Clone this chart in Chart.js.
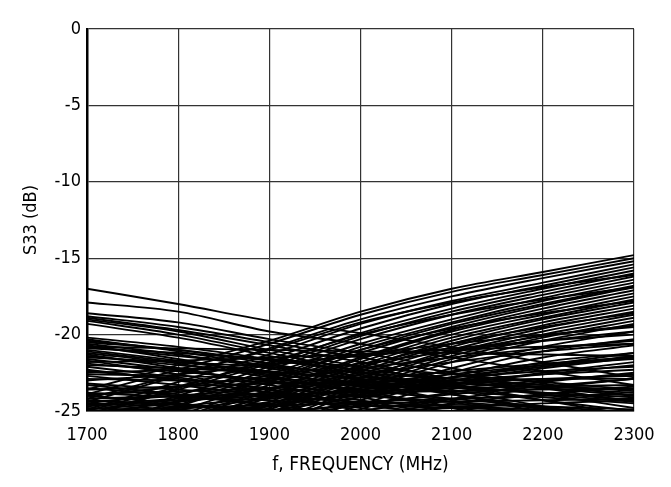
<!DOCTYPE html>
<html>
<head>
<meta charset="utf-8">
<script src="https://cdn.jsdelivr.net/npm/chart.js@4"></script>
<style>
  html, body { margin: 0; padding: 0; background: #fff; }
  canvas { display: block; }
</style>
</head>
<body>
<canvas id="c" width="671" height="487"></canvas>
<script>
// Frequencies (MHz) at which each trace is sampled
const frequencies = [1700, 1800, 1900, 2000, 2100, 2200, 2300];

// Tick values / labels
const xTicks = [1700, 1800, 1900, 2000, 2100, 2200, 2300];
const xTickLabels = ['1700', '1800', '1900', '2000', '2100', '2200', '2300'];
const yTicks = [0, -5, -10, -15, -20, -25];
const yTickLabels = ['0', '-5', '-10', '-15', '-20', '-25'];

// S33 (dB) traces rising with frequency
const risingTraces = [
  [-23.6, -22.0, -20.4, -18.5, -17.0, -15.9, -14.8],
  [-23.9, -22.3, -20.6, -18.7, -17.2, -16.1, -15.0],
  [-24.4, -22.7, -20.9, -19.0, -17.5, -16.3, -15.2],
  [-24.2, -22.6, -21.0, -19.2, -17.9, -16.9, -16.1],
  [-24.9, -23.1, -21.3, -19.3, -17.8, -16.6, -15.4],
  [-25.4, -23.5, -21.6, -19.6, -18.0, -16.8, -15.6],
  [-25.2, -23.6, -21.9, -19.9, -18.3, -17.0, -15.8],
  [-25.0, -23.4, -21.8, -20.0, -18.7, -17.7, -16.9],
  [-25.8, -24.0, -22.1, -20.1, -18.5, -17.2, -16.0],
  [-26.3, -24.3, -22.3, -20.3, -18.7, -17.4, -16.2],
  [-26.0, -24.4, -22.6, -20.6, -19.0, -17.6, -16.4],
  [-26.6, -24.7, -22.8, -20.8, -19.2, -17.8, -16.6],
  [-26.4, -24.6, -22.9, -21.0, -19.6, -18.6, -17.8],
  [-26.9, -25.0, -23.1, -21.0, -19.3, -18.0, -16.8],
  [-27.2, -25.3, -23.3, -21.2, -19.5, -18.1, -16.9],
  [-27.0, -25.4, -23.6, -21.5, -19.7, -18.3, -17.1],
  [-27.6, -25.6, -23.7, -21.6, -19.8, -18.5, -17.3],
  [-27.9, -25.9, -23.9, -21.8, -20.0, -18.7, -17.5],
  [-28.1, -26.1, -24.1, -22.0, -20.2, -18.9, -17.7],
  [-27.4, -25.7, -24.0, -22.1, -20.6, -19.5, -18.6],
  [-28.4, -26.4, -24.4, -22.2, -20.4, -19.0, -17.9],
  [-28.7, -26.7, -24.6, -22.4, -20.6, -19.2, -18.1],
  [-29.0, -27.0, -24.8, -22.6, -20.8, -19.4, -18.3],
  [-29.2, -27.2, -25.1, -22.9, -21.0, -19.6, -18.5],
  [-28.8, -26.9, -24.9, -22.8, -21.2, -20.1, -19.4],
  [-29.5, -27.5, -25.3, -23.1, -21.2, -19.8, -18.7],
  [-29.8, -27.7, -25.5, -23.3, -21.4, -20.0, -18.9],
  [-30.0, -28.0, -25.8, -23.5, -21.6, -20.2, -19.1],
  [-30.3, -28.2, -26.0, -23.7, -21.8, -20.4, -19.3],
  [-30.5, -28.5, -26.3, -24.0, -22.2, -20.8, -19.8],
  [-30.8, -28.8, -26.6, -24.3, -22.5, -21.1, -20.3],
  [-31.0, -29.0, -26.8, -24.6, -22.8, -21.5, -20.7],
  [-31.2, -29.2, -27.0, -24.9, -23.1, -21.8, -21.2]
];

// Traces with a gentler rise
const gentleTraces = [
  [-23.0, -22.6, -22.0, -21.3, -20.6, -20.0, -19.5],
  [-22.5, -22.3, -21.9, -21.4, -20.9, -20.4, -20.0],
  [-24.0, -23.4, -22.7, -21.9, -21.1, -20.4, -19.8],
  [-21.8, -21.7, -21.5, -21.3, -21.0, -20.8, -20.6],
  [-20.8, -20.9, -21.0, -21.1, -21.2, -21.3, -21.4],
  [-24.5, -23.8, -23.0, -22.2, -21.5, -20.9, -20.4],
  [-25.2, -24.4, -23.5, -22.6, -21.8, -21.1, -20.6]
];

// Traces falling with frequency
const fallingTraces = [
  [-17.0, -18.0, -19.1, -19.9, -20.8, -21.8, -22.8],
  [-17.9, -18.5, -19.8, -20.6, -21.5, -22.4, -23.3],
  [-18.6, -19.2, -20.3, -21.2, -22.2, -23.2, -24.0],
  [-18.8, -19.5, -20.5, -21.5, -22.5, -23.5, -24.4],
  [-18.9, -19.7, -20.7, -21.8, -22.9, -23.9, -24.8],
  [-19.0, -19.8, -21.0, -22.1, -23.2, -24.3, -25.3],
  [-19.1, -20.0, -21.2, -22.4, -23.6, -24.7, -25.8],
  [-19.3, -20.2, -21.4, -22.6, -23.9, -25.1, -26.2],
  [-20.2, -20.8, -21.6, -22.5, -23.4, -24.3, -25.0],
  [-20.3, -21.1, -22.1, -23.0, -23.9, -24.8, -25.6],
  [-20.4, -21.0, -21.9, -22.9, -23.9, -24.9, -25.9],
  [-20.5, -21.0, -21.7, -22.3, -22.9, -23.5, -24.0],
  [-20.6, -21.3, -22.2, -23.2, -24.3, -25.3, -26.4],
  [-20.7, -21.6, -22.7, -23.7, -24.7, -25.7, -26.6],
  [-20.8, -21.4, -22.0, -22.7, -23.3, -23.9, -24.4],
  [-20.9, -21.2, -21.6, -22.1, -22.6, -23.1, -23.6],
  [-21.0, -21.7, -22.5, -23.4, -24.4, -25.5, -26.5],
  [-21.1, -21.8, -22.4, -22.9, -23.2, -23.4, -23.6],
  [-21.2, -21.9, -22.8, -23.8, -24.8, -25.9, -27.0],
  [-21.3, -22.2, -23.3, -24.3, -25.3, -26.2, -27.0],
  [-21.4, -22.0, -22.6, -23.2, -23.7, -24.1, -24.5],
  [-21.5, -21.8, -22.1, -22.5, -22.9, -23.3, -23.7],
  [-21.6, -22.3, -23.1, -24.1, -25.1, -26.1, -27.1],
  [-21.7, -22.6, -23.8, -25.0, -26.1, -27.2, -28.2],
  [-21.9, -22.4, -23.0, -23.6, -24.2, -24.7, -25.1],
  [-22.0, -22.2, -22.5, -22.8, -23.1, -23.5, -23.8],
  [-22.1, -22.8, -23.6, -24.5, -25.4, -26.4, -27.4],
  [-22.3, -23.0, -23.8, -24.6, -25.3, -26.0, -26.6],
  [-22.4, -22.9, -23.5, -24.0, -24.4, -24.8, -25.2],
  [-22.6, -22.7, -22.9, -23.1, -23.4, -23.8, -24.3],
  [-22.7, -23.3, -24.0, -24.8, -25.7, -26.6, -27.5],
  [-23.2, -23.6, -24.0, -24.4, -24.7, -24.9, -25.2],
  [-23.3, -23.9, -24.6, -25.4, -26.2, -27.0, -27.8],
  [-23.5, -24.0, -24.6, -25.3, -26.0, -26.8, -27.6],
  [-23.8, -24.1, -24.3, -24.6, -24.8, -25.0, -25.3],
  [-24.0, -24.5, -25.1, -25.7, -26.3, -27.0, -27.7],
  [-24.3, -24.6, -24.9, -25.2, -25.5, -25.8, -26.0],
  [-24.6, -24.9, -25.3, -25.7, -26.1, -26.5, -26.9],
  [-24.8, -25.0, -25.2, -25.4, -25.6, -25.8, -26.0]
];

// Low traces, nearly flat or slowly rising
const lowTraces = [
  [-25.5, -24.9, -24.2, -23.5, -22.8, -22.1, -21.4],
  [-26.0, -25.3, -24.6, -23.9, -23.2, -22.6, -22.0],
  [-24.6, -24.2, -23.8, -23.4, -23.0, -22.6, -22.3],
  [-25.8, -25.2, -24.5, -24.0, -23.5, -23.0, -22.6],
  [-23.6, -23.4, -23.2, -23.1, -23.0, -22.9, -22.9],
  [-24.2, -24.0, -23.9, -23.8, -23.7, -23.6, -23.5],
  [-26.5, -25.6, -24.7, -23.8, -23.0, -22.2, -21.5],
  [-27.0, -26.0, -25.0, -24.1, -23.3, -22.5, -21.8],
  [-25.0, -24.8, -24.6, -24.5, -24.4, -24.3, -24.2],
  [-22.9, -23.0, -23.1, -23.3, -23.5, -23.8, -24.1],
  [-23.9, -23.7, -23.5, -23.2, -22.8, -22.4, -22.1],
  [-24.4, -24.0, -23.5, -23.0, -22.4, -21.9, -21.5],
  [-24.7, -24.3, -24.0, -23.7, -23.5, -23.4, -23.3],
  [-24.9, -24.4, -23.8, -23.2, -22.6, -22.0, -21.6],
  [-25.3, -24.7, -24.1, -23.6, -23.2, -22.9, -22.7],
  [-26.2, -25.3, -24.4, -23.6, -22.8, -22.0, -21.2],
  [-25.6, -25.1, -24.7, -24.4, -24.2, -24.0, -23.9],
  [-26.8, -26.0, -25.2, -24.5, -23.9, -23.4, -22.9],
  [-27.5, -26.5, -25.5, -24.6, -23.8, -23.1, -22.5],
  [-28.0, -27.0, -26.0, -25.0, -24.2, -23.5, -22.9],
  [-28.5, -27.4, -26.3, -25.3, -24.5, -23.9, -23.4],
  [-25.1, -25.3, -25.0, -24.7, -24.6, -24.7, -24.9],
  [-24.5, -24.7, -24.9, -25.0, -24.8, -24.5, -24.3]
];

const FONT = '"DejaVu Sans Condensed", "DejaVu Sans", sans-serif';

const allTraces = [].concat(risingTraces, gentleTraces, fallingTraces, lowTraces);
const datasets = allTraces.map(trace => ({
  data: trace.map((v, i) => ({ x: frequencies[i], y: v })),
  borderColor: '#000',
  borderWidth: 1.9,
  pointRadius: 0,
  fill: false,
  cubicInterpolationMode: 'monotone'
}));

new Chart(document.getElementById('c'), {
  type: 'line',
  data: { datasets },
  options: {
    responsive: false,
    animation: false,
    devicePixelRatio: 1,
    layout: { padding: { top: 29, right: 37, left: 0, bottom: 0 } },
    plugins: { legend: { display: false }, tooltip: { enabled: false } },
    scales: {
      x: {
        type: 'linear',
        min: 1700, max: 2300,
        afterBuildTicks: s => { s.ticks = xTicks.map(v => ({ value: v })); },
        afterFit: s => { s.height = 76; },
        ticks: { color: '#000', font: { family: FONT, size: 18 }, padding: 14, maxRotation: 0,
                 callback: v => xTickLabels[xTicks.indexOf(v)] },
        grid: { color: '#333', lineWidth: 1.2, drawTicks: false },
        border: { color: '#000', width: 1.5 },
        title: { display: true, text: 'f, FREQUENCY (MHz)', color: '#000',
                 font: { family: FONT, size: 19 }, padding: { top: 0, bottom: 11 } }
      },
      y: {
        min: -25, max: 0,
        afterBuildTicks: s => { s.ticks = yTicks.map(v => ({ value: v })); },
        afterFit: s => { s.width = 87; },
        ticks: { color: '#000', font: { family: FONT, size: 18 }, padding: 6,
                 callback: v => yTickLabels[yTicks.indexOf(v)] },
        grid: { color: '#333', lineWidth: 1.2, drawTicks: false },
        border: { color: '#000', width: 2.5 },
        title: { display: true, text: 'S33 (dB)', color: '#000',
                 font: { family: FONT, size: 18 }, padding: { top: 21, bottom: 0 } }
      }
    }
  }
});
</script>
</body>
</html>
